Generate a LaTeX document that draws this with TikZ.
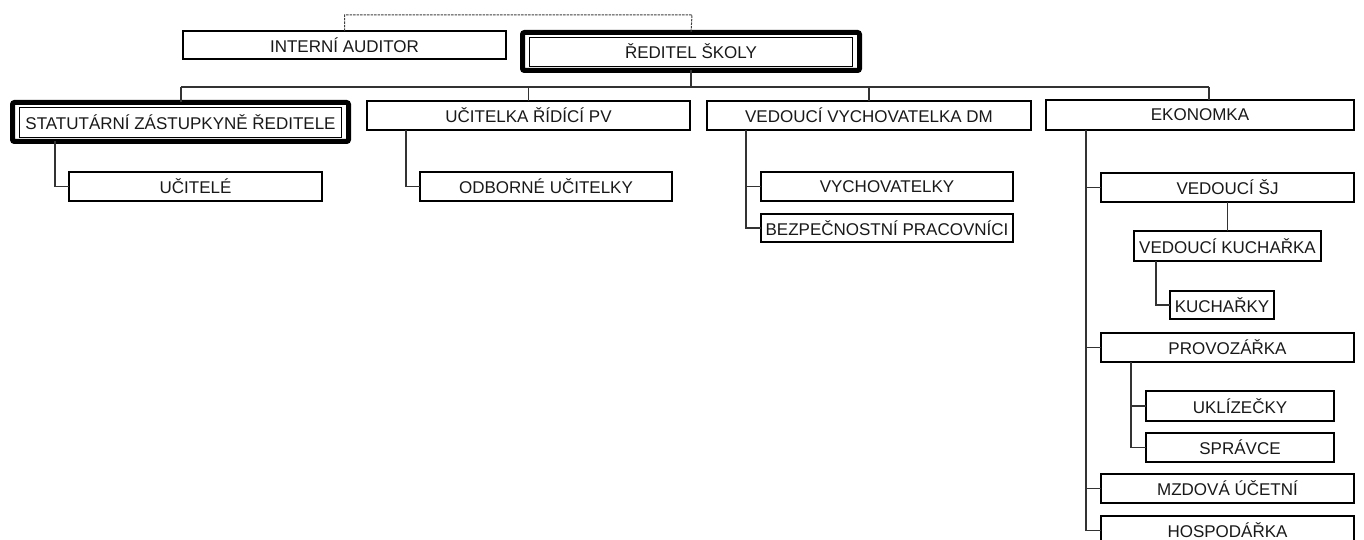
\documentclass[tikz,border=0pt]{standalone}
\usepackage{fontspec}
\setmainfont{Liberation Sans}
\begin{document}
\begin{tikzpicture}[x=1pt,y=-1pt,
  box/.style={draw=black,line width=2pt,fill=white,inner sep=0pt,outer sep=0pt,
    font=\fontsize{17}{19}\selectfont,text=black!90},
  dblbox/.style={draw=black,line width=5pt,rounded corners=2pt,fill=white,inner sep=0pt,outer sep=0pt,
    font=\fontsize{17}{19}\selectfont,text=black!90},
  innerline/.style={draw=black,line width=0.9pt},
  conn/.style={draw=black!80,line width=1.1pt},
  dotconn/.style={draw=black!75,line width=1pt,dash pattern=on 2.5pt off 1pt}]
\useasboundingbox (0,0) rectangle (1364,540);
\newcommand\mkbox[6]{\node[box,minimum width=#4pt,minimum height=#5pt] (#1) at (#2,#3) {#6};}
\newcommand\innerframe[1]{\draw[innerline] ([xshift=7pt,yshift=-4.5pt]#1.north west) rectangle ([xshift=-7pt,yshift=4.5pt]#1.south east);}
% top
\mkbox{aud}{344.5}{45}{323}{28}{INTERNÍ AUDITOR}
\node[dblbox,minimum width=337pt,minimum height=38pt] (red) at (691,51.5) {ŘEDITEL ŠKOLY};
\innerframe{red}
% level 2
\node[dblbox,minimum width=336pt,minimum height=39pt] (stat) at (180.5,122) {STATUTÁRNÍ ZÁSTUPKYNĚ ŘEDITELE};
\innerframe{stat}
\mkbox{ucpv}{528.5}{115.5}{323}{29}{UČITELKA ŘÍDÍCÍ PV}
\mkbox{vvdm}{869}{115.5}{324}{29}{VEDOUCÍ VYCHOVATELKA DM}
\mkbox{eko}{1200}{115}{308}{30}{EKONOMKA}
% level 3
\mkbox{ucit}{195.5}{186.5}{253}{29}{UČITELÉ}
\mkbox{odb}{546}{186.5}{252}{29}{ODBORNÉ UČITELKY}
\mkbox{vych}{887}{186.5}{252}{29}{VYCHOVATELKY}
\mkbox{bezp}{887}{228}{252}{28}{BEZPEČNOSTNÍ PRACOVNÍCI}
\mkbox{vsj}{1227.5}{187.5}{253}{29}{VEDOUCÍ ŠJ}
\mkbox{vkuch}{1227.5}{246}{187}{30}{VEDOUCÍ KUCHAŘKA}
\mkbox{kuch}{1222}{305}{104}{28}{KUCHAŘKY}
\mkbox{prov}{1227.5}{347.5}{253}{29}{PROVOZÁŘKA}
\mkbox{ukl}{1240}{406}{188}{30}{UKLÍZEČKY}
\mkbox{spr}{1240}{447.5}{188}{29}{SPRÁVCE}
\mkbox{mzd}{1227.5}{488.5}{253}{29}{MZDOVÁ ÚČETNÍ}
\mkbox{hosp}{1227.5}{530.5}{253}{29}{HOSPODÁŘKA}
% coordinates
\coordinate (dtop) at (692,15);
\coordinate (busL) at (181,87);
\coordinate (busR) at (1209,87);
\coordinate (xs) at (55,0);
\coordinate (xu) at (406,0);
\coordinate (xv) at (746,0);
\coordinate (xe) at (1086,0);
\coordinate (xk) at (1156,0);
\coordinate (xp) at (1131,0);
% connectors
\draw[dotconn] (aud.north) |- (dtop) -- (red.north);
\draw[conn] (red.south) -- (red.south |- busL);
\draw[conn] (busL) -- (busR);
\draw[conn] (busL) -- (stat.north -| busL);
\draw[conn] (ucpv.north |- busL) -- (ucpv.north);
\draw[conn] (vvdm.north |- busL) -- (vvdm.north);
\draw[conn] (busR) -- (eko.north -| busR);
\draw[conn] (stat.south -| xs) |- (ucit.west);
\draw[conn] (ucpv.south -| xu) |- (odb.west);
\draw[conn] (vvdm.south -| xv) |- (bezp.west);
\draw[conn] (vych.west -| xv) -- (vych.west);
\draw[conn] (eko.south -| xe) |- (hosp.west);
\draw[conn] (vsj.west -| xe) -- (vsj.west);
\draw[conn] (prov.west -| xe) -- (prov.west);
\draw[conn] (mzd.west -| xe) -- (mzd.west);
\draw[conn] (vsj.south) -- (vkuch.north);
\draw[conn] (vkuch.south -| xk) |- (kuch.west);
\draw[conn] (prov.south -| xp) |- (spr.west);
\draw[conn] (ukl.west -| xp) -- (ukl.west);
\end{tikzpicture}
\end{document}
